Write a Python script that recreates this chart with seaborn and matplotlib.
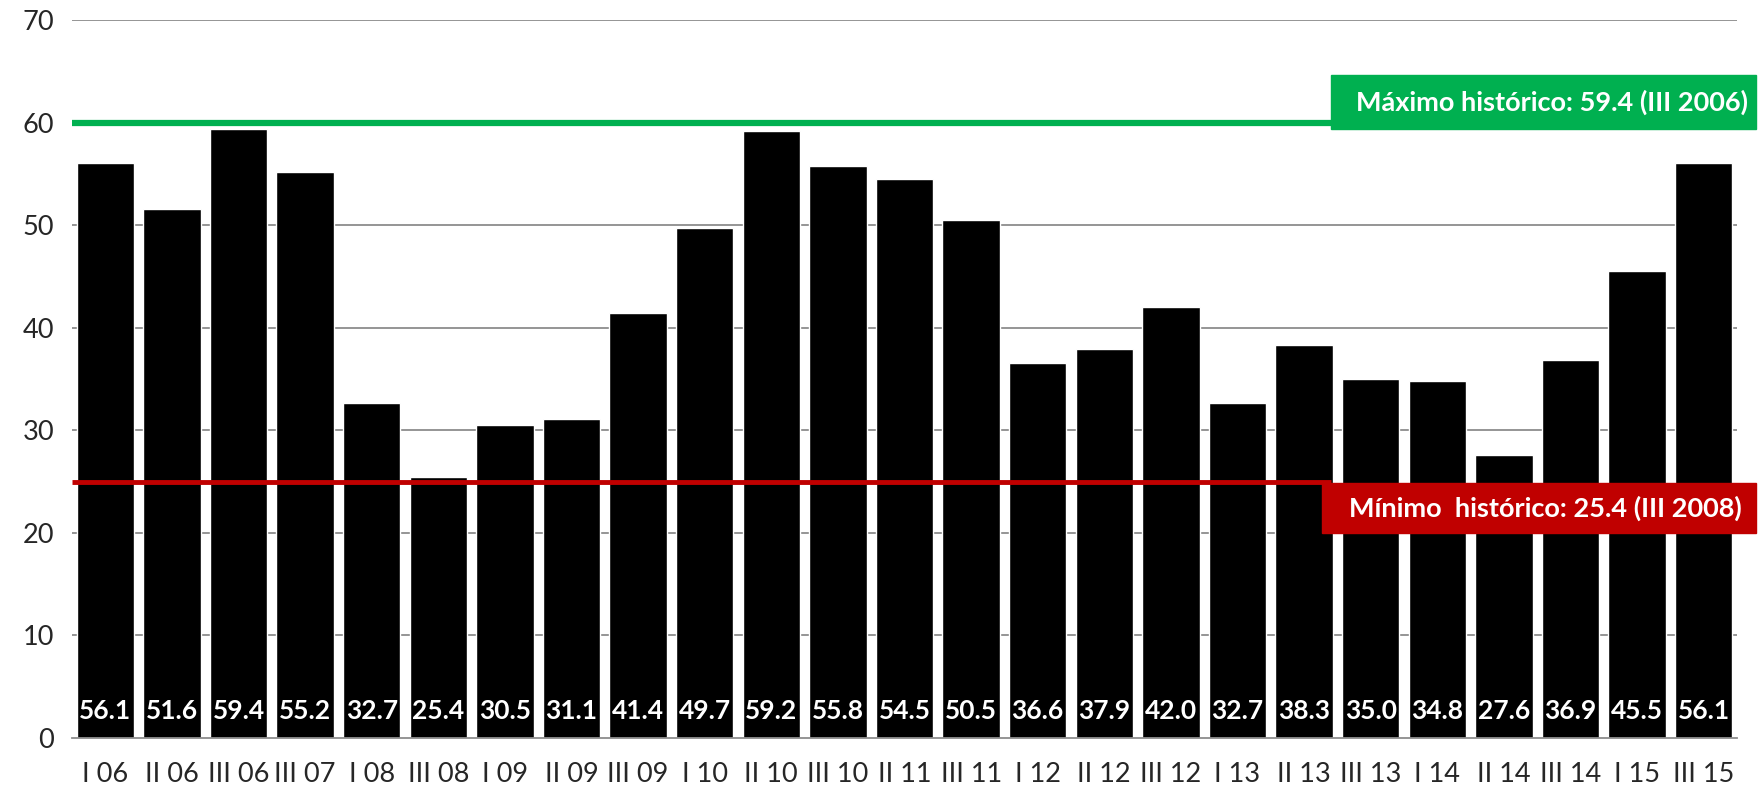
import matplotlib
matplotlib.use("Agg")
import matplotlib.pyplot as plt
import matplotlib.patches as mpatches
import seaborn as sns
import pandas as pd

periods = ["I 06", "II 06", "III 06", "III 07", "I 08", "III 08", "I 09", "II 09",
           "III 09", "I 10", "II 10", "III 10", "II 11", "III 11", "I 12", "II 12",
           "III 12", "I 13", "II 13", "III 13", "I 14", "II 14", "III 14", "I 15", "III 15"]
values = [56.1, 51.6, 59.4, 55.2, 32.7, 25.4, 30.5, 31.1, 41.4, 49.7, 59.2, 55.8,
          54.5, 50.5, 36.6, 37.9, 42.0, 32.7, 38.3, 35.0, 34.8, 27.6, 36.9, 45.5, 56.1]
max_level = 60
min_level = 25
max_label = "Máximo histórico: 59.4 (III 2006)"
min_label = "Mínimo  histórico: 25.4 (III 2008)"

df = pd.DataFrame({"periodo": periods, "valor": values})

sns.set_style("white")
plt.rcParams["font.family"] = ["Lato", "DejaVu Sans"]

W, H = 1760, 790
fig = plt.figure(figsize=(W / 100, H / 100), dpi=100)
ax = fig.add_axes([72 / W, 1 - 738 / H, (1737 - 72) / W, (738 - 20) / H])

sns.barplot(data=df, x="periodo", y="valor", color="black", width=0.86,
            saturation=1, ax=ax, zorder=2)

ax.set_ylim(0, 70)
ax.set_xlim(-0.5, len(periods) - 0.5)
ax.set_yticks(range(0, 71, 10))
for y in range(10, 71, 10):
    ax.axhline(y, color="#8c8c8c", lw=1.3, zorder=0)

for s in ["top", "right", "left"]:
    ax.spines[s].set_visible(False)
ax.spines["bottom"].set_color("#8c8c8c")
ax.spines["bottom"].set_linewidth(1.3)

ax.set_xlabel("")
ax.set_ylabel("")
ax.tick_params(axis="x", length=0, pad=17, labelsize=19.5)
ax.tick_params(axis="y", length=0, pad=13, labelsize=19.5)
ax.set_xticks([i - 0.5 for i in range(len(periods) + 1)], minor=True)
ax.tick_params(axis="x", which="minor", length=8, color="#8c8c8c", width=1.3, direction="out")

for i, v in enumerate(values):
    ax.text(i, 1.5, f"{v:.1f}", color="white", fontsize=19, fontweight="bold",
            ha="center", va="bottom", zorder=3)

# reference lines and boxes
ax.plot([-0.5, 18.55], [max_level, max_level], color="#00b050", lw=4.5, zorder=4,
        solid_capstyle="butt", clip_on=False)
ax.plot([-0.5, 18.4], [min_level, min_level], color="#c00000", lw=3.5, zorder=4,
        solid_capstyle="butt", clip_on=False)

green_box = mpatches.Rectangle((1331 / W, 1 - 129 / H), (1756 - 1331) / W, 54 / H,
                               transform=fig.transFigure, color="#00b050", zorder=5)
red_box = mpatches.Rectangle((1322 / W, 1 - 533 / H), (1756 - 1322) / W, 50 / H,
                             transform=fig.transFigure, color="#c00000", zorder=5)
fig.add_artist(green_box)
fig.add_artist(red_box)
fig.text(1748 / W, 1 - 102 / H, max_label, color="white", fontsize=19.5, fontweight="bold",
         ha="right", va="center", zorder=6)
fig.text(1742 / W, 1 - 508 / H, min_label, color="white", fontsize=19.5, fontweight="bold",
         ha="right", va="center", zorder=6)

plt.savefig("out.png", dpi=100)
plt.close()
